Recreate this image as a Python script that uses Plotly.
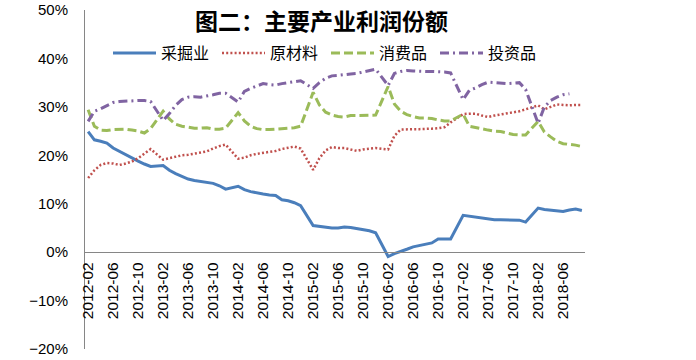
import plotly.graph_objects as go
import pandas as pd

# ---- categories: monthly axis 2012-02 .. 2018-09 (January has no data) ----
all_months = [p.strftime("%Y-%m") for p in pd.period_range("2012-02", "2018-09", freq="M")]
data_months = [m for m in all_months if not m.endswith("-01")]
tick_months = all_months[::4]

# ---- series values (%), Feb..Dec of each year ----
mining = [  # 采掘业
    24.9, 23.2, 22.9, 22.5, 21.5, 20.8, 20.1, 19.4, 18.8, 18.2, 17.7,
    17.9, 16.9, 16.2, 15.6, 15.1, 14.8, 14.6, 14.4, 14.2, 13.7, 13.0,
    13.6, 12.9, 12.5, 12.2, 12.0, 11.8, 11.7, 10.8, 10.6, 10.2, 9.6,
    5.5, 5.3, 5.1, 5.0, 5.0, 5.2, 5.1, 4.9, 4.7, 4.4, 4.0,
    -0.9, -0.3, 0.1, 0.6, 1.1, 1.4, 1.6, 1.9, 2.7, 2.7, 2.7,
    7.6, 7.4, 7.2, 7.0, 6.8, 6.7, 6.7, 6.7, 6.7, 6.6, 6.2,
    9.1, 8.8, 8.7, 8.5, 8.4, 8.7, 8.9, 8.6,
]
materials = [  # 原材料
    15.3, 16.9, 18.0, 18.4, 18.3, 18.0, 18.3, 18.7, 19.4, 20.4, 21.3,
    19.1, 19.4, 19.8, 20.0, 20.1, 20.3, 20.5, 20.8, 21.4, 21.9, 22.2,
    19.3, 19.5, 20.0, 20.3, 20.5, 20.7, 20.9, 21.3, 21.6, 21.8, 21.4,
    17.0, 19.4, 21.0, 21.7, 21.5, 21.5, 21.2, 20.9, 21.2, 21.4, 21.5,
    21.2, 24.0, 25.3, 25.4, 25.4, 25.4, 25.4, 25.5, 25.6, 25.8, 26.8,
    28.5, 28.6, 28.6, 28.2, 27.9, 28.2, 28.4, 28.6, 28.8, 29.1, 29.5,
    30.3, 29.5, 30.0, 30.5, 30.4, 30.3, 30.4, 30.4,
]
consumer = [  # 消费品
    29.4, 26.0, 25.2, 25.1, 25.3, 25.4, 25.4, 25.2, 25.0, 24.6, 25.5,
    29.1, 27.5, 26.4, 26.0, 25.8, 25.6, 25.6, 25.7, 25.4, 25.4, 25.6,
    28.8, 27.1, 26.0, 25.5, 25.3, 25.3, 25.4, 25.5, 25.6, 25.7, 26.0,
    33.0, 30.4, 28.9, 28.3, 28.0, 27.9, 28.2, 28.2, 28.2, 28.2, 28.3,
    34.2, 30.6, 29.1, 28.4, 28.0, 27.7, 27.7, 27.6, 27.3, 27.1, 27.1,
    28.5, 26.0, 25.7, 25.5, 25.2, 25.0, 24.9, 24.6, 24.3, 24.2, 24.2,
    27.0, 24.8, 23.8, 22.9, 22.4, 22.3, 22.1, 21.8,
]
investment = [  # 投资品
    27.0, 29.1, 29.6, 30.3, 30.9, 31.1, 31.2, 31.3, 31.3, 31.3, 31.1,
    27.2, 28.6, 30.3, 31.5, 32.0, 32.1, 32.0, 32.2, 32.5, 32.8, 32.8,
    31.0, 33.2, 33.8, 34.3, 34.8, 34.6, 34.5, 34.8, 35.0, 35.3, 35.4,
    33.8, 35.0, 35.9, 36.4, 36.5, 36.7, 36.8, 36.9, 37.2, 37.6, 37.8,
    34.4, 36.9, 37.3, 37.5, 37.4, 37.3, 37.3, 37.3, 37.3, 37.2, 37.0,
    31.5, 33.4, 33.9, 34.6, 35.1, 35.0, 34.9, 34.8, 34.9, 35.0, 33.6,
    26.6, 30.0, 31.3, 32.0, 32.5, 32.7,
]
title_text = "图二：主要产业利润份额"

series = [
    ("采掘业", mining, "#4A7EBB", "solid", 3),
    ("原材料", materials, "#C0504D", "2px,2.2px", 2.5),
    ("消费品", consumer, "#9BBB59", "9px,4px", 3),
    ("投资品", investment, "#8064A2", "9px,4px,2px,4px", 3),
]

fig = go.Figure()
for name, vals, color, dash, w in series:
    fig.add_trace(go.Scatter(
        x=data_months[:len(vals)], y=vals, name=name, mode="lines",
        line=dict(color=color, width=w, dash=dash),
    ))

tick_font_y = dict(family="Liberation Sans, Arial, sans-serif", size=15, color="#000000")
tick_font_x = dict(family="Liberation Sans, Arial, sans-serif", size=15.5, color="#000000")

fig.add_annotation(
    text="<b>" + title_text + "</b>",
    xref="paper", yref="paper", x=0.473, y=1,
    xanchor="center", yanchor="middle", yshift=-10,
    showarrow=False, borderpad=0,
    font=dict(family="Noto Sans CJK SC", size=23, color="#000000"),
)

fig.update_layout(
    width=696, height=360,
    margin=dict(l=85, r=111, t=10, b=11, autoexpand=False),
    paper_bgcolor="white", plot_bgcolor="white",
    showlegend=True,
    legend=dict(
        orientation="h",
        x=0.046, xanchor="left", xref="paper",
        y=0.873, yanchor="middle", yref="paper",
        font=dict(family="Noto Sans CJK SC", size=16, color="#000000"),
        itemwidth=43,
        entrywidth=51, entrywidthmode="pixels",
        bgcolor="rgba(0,0,0,0)",
    ),
    xaxis=dict(
        type="category",
        categoryorder="array", categoryarray=all_months,
        range=[-0.5, len(all_months) - 0.5],
        tickmode="array", tickvals=tick_months, ticktext=tick_months,
        tickangle=-90, tickfont=tick_font_x,
        showline=True, linecolor="#868686", linewidth=1,
        showgrid=False, zeroline=False, ticks="",
        anchor="free", position=20 / 70,
        ticklabelstandoff=3,
        automargin=False,
    ),
    yaxis=dict(
        range=[-20, 50], dtick=10, tick0=0, ticksuffix="%",
        tickfont=tick_font_y,
        showline=True, linecolor="#868686", linewidth=1,
        showgrid=False, zeroline=False, ticks="",
        ticklabelstandoff=13,
        ticklabeloverflow="allow",
        automargin=False,
    ),
)

# remove the browser's default 8px body margin so the figure fills the window exactly
fig.write_html(
    "out.html",
    config={"displayModeBar": False},
    post_script="document.body.style.margin='0px';document.body.style.padding='0px';",
)
